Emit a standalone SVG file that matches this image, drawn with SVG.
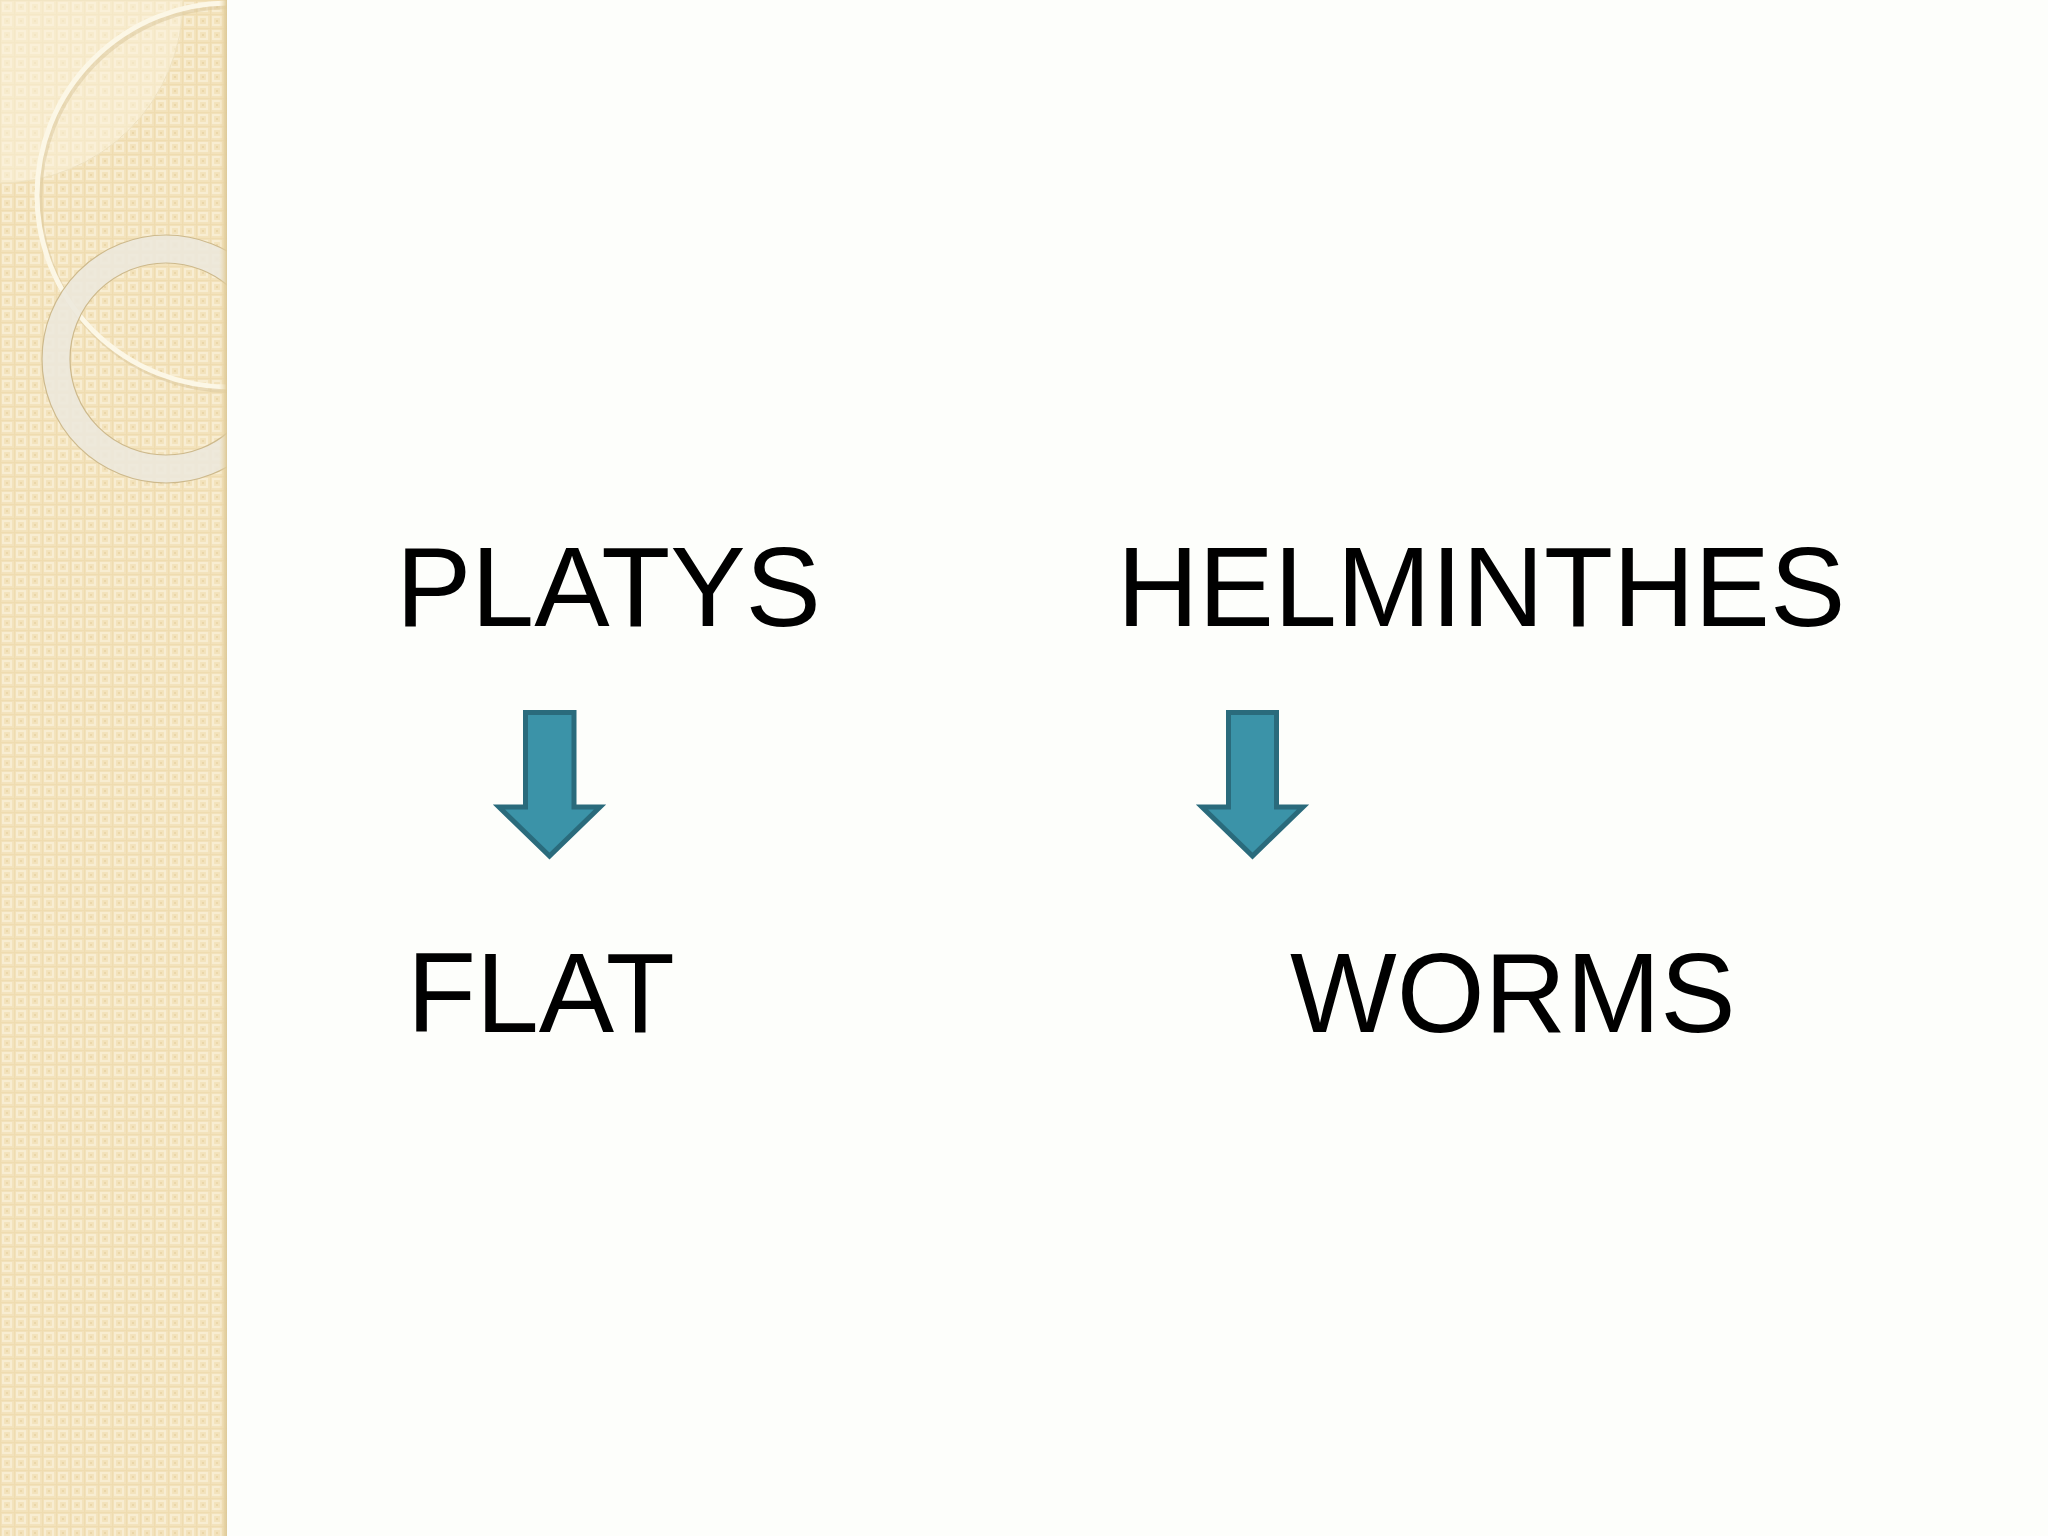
<svg xmlns="http://www.w3.org/2000/svg" width="2048" height="1536" viewBox="0 0 2048 1536">
<defs>
<pattern id="weave" width="14" height="14" patternUnits="userSpaceOnUse">
<rect width="14" height="14" fill="#f3e2bb"/>
<rect x="3" y="3" width="8" height="8" fill="none" stroke="#f8edd2" stroke-width="2.2"/>
<rect x="6" y="6" width="2" height="2" fill="#ead6a8"/>
<rect x="0" y="0" width="1.2" height="14" fill="#efdcb0"/>
<rect x="0" y="0" width="14" height="1.2" fill="#efdcb0"/>
</pattern>
<clipPath id="panelClip"><rect x="0" y="0" width="227" height="1536"/></clipPath>
<linearGradient id="edge" x1="0" x2="1" y1="0" y2="0">
<stop offset="0" stop-color="#efdcae" stop-opacity="0"/>
<stop offset="1" stop-color="#dcc896"/>
</linearGradient>
</defs>
<style>
.lbl{font-family:"Liberation Sans",Arial,sans-serif;font-size:113px;fill:#000}
.arrow{fill:#3b93a8;stroke:#2a6b7c;stroke-width:5;stroke-linejoin:miter}
</style>
<rect width="2048" height="1536" fill="#fdfefb"/>
<g id="panel" clip-path="url(#panelClip)">
<rect x="0" y="0" width="227" height="1536" fill="url(#weave)"/>
<path d="M0,0 H183 A183,183 0 0 1 0,183 Z" fill="#fbf3de" fill-opacity="0.5" stroke="#efe2c0" stroke-width="1"/>
<circle cx="229" cy="195" r="192" fill="none" stroke="#d9c59a" stroke-width="6" stroke-opacity="0.5" transform="translate(2,3)"/>
<circle cx="229" cy="195" r="192" fill="none" stroke="#fcf7e6" stroke-width="5"/>
<circle cx="166" cy="359" r="110" fill="none" stroke="#ece8dc" stroke-opacity="0.9" stroke-width="28"/>
<circle cx="166" cy="359" r="124" fill="none" stroke="#cdb98c" stroke-width="1.2"/>
<circle cx="166" cy="359" r="96" fill="none" stroke="#cdb98c" stroke-width="1.2"/>
<rect x="219" y="0" width="8" height="1536" fill="url(#edge)"/>
</g>
<g id="node-platys"><text class="lbl" x="396" y="626">PLATYS</text></g>
<g id="node-helminthes"><text class="lbl" x="1117" y="626">HELMINTHES</text></g>
<g id="node-flat"><text class="lbl" x="407" y="1032">FLAT</text></g>
<g id="node-worms"><text class="lbl" x="1290" y="1032">WORMS</text></g>
<g id="connectors">
<path class="arrow" d="M525.5,712.5 H574 V807 H600 L549.5,856 L499,807 H525.5 Z"/>
<path class="arrow" d="M1228.5,712.5 H1276.5 V807 H1303 L1252.5,856 L1202,807 H1228.5 Z"/>
</g>
</svg>
